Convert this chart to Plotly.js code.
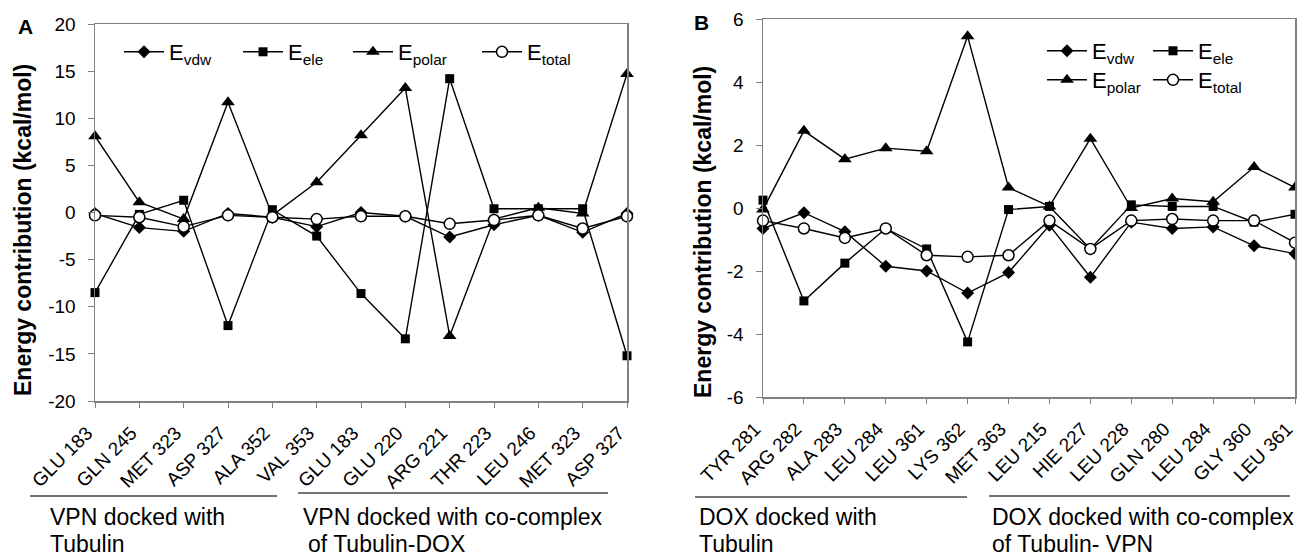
<!DOCTYPE html>
<html><head><meta charset="utf-8">
<script src="https://cdn.plot.ly/plotly-3.0.1.min.js"></script>
<style>html,body{margin:0;padding:0;background:#fff}</style>
</head><body><div id="chart" style="width:1297px;height:557px"></div>
<script>
// ---------- Data ----------
const residuesA = ["GLU 183","GLN 245","MET 323","ASP 327","ALA 352","VAL 353","GLU 183","GLU 220","ARG 221","THR 223","LEU 246","MET 323","ASP 327"];
const vdwA   = [-0.1, -1.6, -2.0, -0.1, -0.5, -1.5, 0.0, -0.4, -2.6, -1.3, -0.3, -2.1, -0.1];
const eleA   = [-8.5, -0.2, 1.3, -12.0, 0.3, -2.5, -8.6, -13.4, 14.2, 0.4, 0.4, 0.4, -15.2];
const polarA = [8.1, 1.1, -0.7, 11.7, -0.3, 3.2, 8.2, 13.2, -13.1, -0.7, 0.5, -0.1, 14.7];
const totalA = [-0.3, -0.5, -1.5, -0.3, -0.5, -0.7, -0.4, -0.4, -1.2, -0.8, -0.3, -1.7, -0.4];

const residuesB = ["TYR 281","ARG 282","ALA 283","LEU 284","LEU 361","LYS 362","MET 363","LEU 215","HIE 227","LEU 228","GLN 280","LEU 284","GLY 360","LEU 361"];
const vdwB   = [-0.65, -0.15, -0.75, -1.85, -2.0, -2.7, -2.05, -0.55, -2.2, -0.45, -0.65, -0.6, -1.2, -1.45];
const eleB   = [0.25, -2.95, -1.75, -0.65, -1.3, -4.25, -0.05, 0.05, -1.3, 0.1, 0.05, 0.05, -0.45, -0.2];
const polarB = [-0.05, 2.45, 1.55, 1.9, 1.8, 5.45, 0.65, 0.05, 2.2, 0.0, 0.3, 0.2, 1.3, 0.65];
const totalB = [-0.4, -0.65, -0.95, -0.65, -1.5, -1.55, -1.5, -0.4, -1.3, -0.4, -0.35, -0.4, -0.4, -1.1];

const yTicksA = [-20, -15, -10, -5, 0, 5, 10, 15, 20];
const yTicksB = [-6, -4, -2, 0, 2, 4, 6];

const seriesNames = ["E<sub>vdw</sub>", "E<sub>ele</sub>", "E<sub>polar</sub>", "E<sub>total</sub>"];
const groupLabelsA = [["VPN docked with", "Tubulin"], ["VPN docked with co-complex", "of Tubulin-DOX"]];
const groupLabelsB = [["DOX docked with", "Tubulin"], ["DOX docked with co-complex", "of Tubulin- VPN"]];

// ---------- Helpers ----------
const W = 1297, H = 557;
const FONT = "Liberation Sans, Arial, sans-serif";
const px = v => v / W;
const py = v => 1 - v / H;
const idx = arr => arr.map((_, i) => i);

const markerStyles = [
  {symbol: "diamond", size: 10, color: "#000"},
  {symbol: "square", size: 9, color: "#000"},
  {symbol: "triangle-up", size: 12, color: "#000"},
  {symbol: "circle", size: 11, color: "#fff", line: {color: "#000", width: 1.5}}
];

function makeTrace(xs, ys, k, xa, ya, legendId) {
  return {
    type: "scatter", mode: "lines+markers",
    x: xs, y: ys, name: seriesNames[k],
    xaxis: xa, yaxis: ya, legend: legendId,
    line: {color: "#000", width: 1.4},
    marker: markerStyles[k],
    cliponaxis: false,
    hoverinfo: "x+y"
  };
}

const xA = idx(residuesA), xB = idx(residuesB);
const seriesA = [vdwA, eleA, polarA, totalA];
const seriesB = [vdwB, eleB, polarB, totalB];

const traces = [];
seriesA.forEach((s, k) => traces.push(makeTrace(xA, s, k, "x", "y", k === 0 ? "legend" : "legend" + (k + 1))));
seriesB.forEach((s, k) => traces.push(makeTrace(xB, s, k, "x2", "y2", "legend" + (k + 5))));

function legendAt(x, y) {
  return {x: px(x), y: py(y), xanchor: "left", yanchor: "middle", orientation: "h",
          bgcolor: "rgba(0,0,0,0)", borderwidth: 0, itemwidth: 40,
          font: {family: FONT, size: 22, color: "#000"}};
}

const axisCommon = {
  showline: true, linecolor: "#808080", linewidth: 1.5, mirror: true,
  showgrid: false, zeroline: false, ticks: "outside", tickcolor: "#808080",
  automargin: false, ticklabeloverflow: "allow",
  tickfont: {family: FONT, size: 19, color: "#000"}
};

const xAxisA = Object.assign({}, axisCommon, {
  domain: [px(95), px(627)], range: [0, residuesA.length - 1], anchor: "y",
  tickmode: "array", tickvals: xA, ticktext: residuesA, tickangle: -45, ticklen: 5,
  ticklabelstandoff: 7, ticklabelshift: -8
});
const yAxisA = Object.assign({}, axisCommon, {
  domain: [py(401), py(24)], range: [yTicksA[0], yTicksA[yTicksA.length - 1]], anchor: "x",
  tickmode: "array", tickvals: yTicksA, ticktext: yTicksA.map(String), ticklen: 6,
  ticklabelstandoff: 8
});
const xAxisB = Object.assign({}, axisCommon, {
  domain: [px(763), px(1295)], range: [0, residuesB.length - 1], anchor: "y2",
  tickmode: "array", tickvals: xB, ticktext: residuesB, tickangle: -45, ticklen: 5,
  ticklabelstandoff: 7, ticklabelshift: -8
});
const yAxisB = Object.assign({}, axisCommon, {
  domain: [py(397), py(19)], range: [yTicksB[0], yTicksB[yTicksB.length - 1]], anchor: "x2",
  tickmode: "array", tickvals: yTicksB, ticktext: yTicksB.map(String), ticklen: 6,
  ticklabelstandoff: 8
});

function textAnn(text, x, y, size, opts) {
  return Object.assign({text: text, x: px(x), y: py(y), xref: "paper", yref: "paper",
    showarrow: false, xanchor: "left", yanchor: "middle",
    font: {family: FONT, size: size, color: "#000"}}, opts || {});
}

const annotations = [
  textAnn("<b>Energy contribution (kcal/mol)</b>", 23, 230, 23, {textangle: -90, xanchor: "center"}),
  textAnn("<b>Energy contribution (kcal/mol)</b>", 703, 232, 23, {textangle: -90, xanchor: "center"}),
  textAnn("<b>A</b>", 25, 26, 21, {xanchor: "center"}),
  textAnn("<b>B</b>", 701, 23, 21, {xanchor: "center"}),
  textAnn(groupLabelsA[0][0], 48, 517, 23), textAnn(groupLabelsA[0][1], 48, 544, 23),
  textAnn(groupLabelsA[1][0], 301, 517, 23), textAnn(groupLabelsA[1][1], 306, 544, 23),
  textAnn(groupLabelsB[0][0], 697, 517, 23), textAnn(groupLabelsB[0][1], 697, 544, 23),
  textAnn(groupLabelsB[1][0], 990, 517, 23), textAnn(groupLabelsB[1][1], 990, 544, 23)
];

function hline(x0, x1, y) {
  return {type: "line", xref: "paper", yref: "paper", x0: px(x0), x1: px(x1), y0: py(y), y1: py(y),
          line: {color: "#444", width: 1.5}};
}
const shapes = [hline(30, 277, 496), hline(298, 608, 493), hline(695, 967, 497), hline(989, 1290, 496)];

const layout = {
  width: W, height: H,
  margin: {l: 0, r: 0, t: 0, b: 0},
  paper_bgcolor: "#fff", plot_bgcolor: "#fff",
  font: {family: FONT, color: "#000"},
  showlegend: true,
  xaxis: xAxisA, yaxis: yAxisA, xaxis2: xAxisB, yaxis2: yAxisB,
  legend: legendAt(119, 52), legend2: legendAt(238, 52), legend3: legendAt(348, 52), legend4: legendAt(477, 52),
  legend5: legendAt(1042, 51), legend6: legendAt(1148, 51), legend7: legendAt(1042, 80), legend8: legendAt(1148, 80),
  annotations: annotations, shapes: shapes
};

Plotly.newPlot("chart", traces, layout, {displayModeBar: false, staticPlot: true});
</script></body></html>
